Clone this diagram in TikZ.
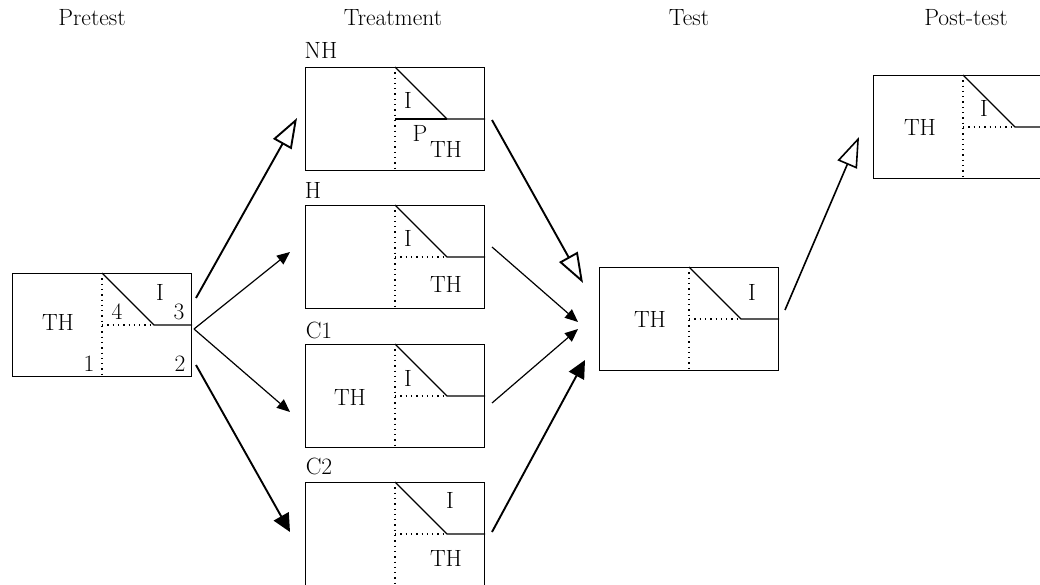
\documentclass[tikz,border=0pt]{standalone}
\usepackage{fontspec}
\setmainfont{Latin Modern Roman}
\usetikzlibrary{arrows.meta,calc}
\begin{document}
\begin{tikzpicture}[x=1pt,y=-1pt,
  box/.style={draw,line width=1.2pt,minimum width=179pt,minimum height=103pt,inner sep=0pt,anchor=north west},
  dots/.style={line width=1.3pt,dash pattern=on 1.3pt off 4pt},
  solid line/.style={line width=1.2pt},
  lbl/.style={font=\fontsize{23.5}{26}\selectfont,inner sep=0pt},
  openarrow/.style={line width=1.9pt,-{Triangle[open,length=30pt,width=21pt]}},
  bigarrow/.style={line width=1.9pt,-{Triangle[length=18pt,width=17pt]}},
  thinarrow/.style={line width=1.2pt,-{Triangle[length=13pt,width=11pt]}}
]
\clip (0,0) rectangle (1040,585);
% headers
\node[lbl] (hpre) at (92,18) {Pretest};
\node[lbl] (htr) at (393,18) {Treatment};
\node[lbl] (hte) at (689,18) {Test};
\node[lbl] (hpo) at (966,18) {Post-test};

\newcommand\mysplitbox[4]{% name, L, T, solid full horizontal? (1 yes / 0 no)
  \node[box] (#1) at (#2,#3) {};
  \draw[dots] ($(#1.north west)+(90,0)$) -- ($(#1.south west)+(90,0)$);
  \draw[solid line] ($(#1.north west)+(90,0)$) -- ($(#1.north west)+(142,52)$) -- ($(#1.north east)+(0,52)$);
  \ifnum#4=1
    \draw[solid line] ($(#1.north west)+(90,52)$) -- ($(#1.north west)+(142,52)$);
  \else
    \draw[dots] ($(#1.north west)+(90,52)$) -- ($(#1.north west)+(142,52)$);
  \fi
}
\mysplitbox{pre}{12}{273}{0}
\mysplitbox{nh}{305}{67}{1}
\mysplitbox{h}{305}{205}{0}
\mysplitbox{ca}{305}{344}{0}
\mysplitbox{cb}{305}{482}{0}
\mysplitbox{te}{599}{267}{0}
\mysplitbox{po}{873}{75}{0}

% pretest labels
\node[lbl] (preTH) at (58,322) {TH};
\node[lbl] (preI) at (160,292) {I};
\node[lbl] (pre4) at (117,312) {4};
\node[lbl] (pre3) at (179,312) {3};
\node[lbl] (pre1) at (89,364) {1};
\node[lbl] (pre2) at (180,364) {2};
% NH
\node[lbl] (nhL) at (321,50) {NH};
\node[lbl] (nhI) at (408,100) {I};
\node[lbl] (nhP) at (420,133) {P};
\node[lbl] (nhTH) at (446,149) {TH};
% H
\node[lbl] (hL) at (313,190) {H};
\node[lbl] (hI) at (408,238) {I};
\node[lbl] (hTH) at (446,284) {TH};
% C1
\node[lbl] (caL) at (319,330) {C1};
\node[lbl] (caTH) at (350,397) {TH};
\node[lbl] (caI) at (408,378) {I};
% C2
\node[lbl] (cbL) at (319,466) {C2};
\node[lbl] (cbI) at (450,500) {I};
\node[lbl] (cbTH) at (446,558) {TH};
% Test
\node[lbl] (teTH) at (650,319) {TH};
\node[lbl] (teI) at (752,292) {I};
% Post
\node[lbl] (poTH) at (920,127) {TH};
\node[lbl] (poI) at (984,108) {I};

% arrow endpoints
\coordinate (s1) at (196,298);
\coordinate (s23) at (194,329);
\coordinate (s4) at (196,365);
\coordinate (t1) at (297,118);
\coordinate (t2) at (290,252);
\coordinate (t3) at (290,412);
\coordinate (t4) at (290,532);
\coordinate (u5) at (492,120);
\coordinate (u6) at (492,247);
\coordinate (u7) at (492,403);
\coordinate (u8) at (492,532);
\coordinate (v5) at (583,283);
\coordinate (v6) at (578,322);
\coordinate (v7) at (578,329);
\coordinate (v8) at (585,360);
\coordinate (w9) at (785,310);
\coordinate (x9) at (859,137);

\draw[openarrow] (s1) -- (t1);
\draw[thinarrow] (s23) -- (t2);
\draw[thinarrow] (s23) -- (t3);
\draw[bigarrow] (s4) -- (t4);
\draw[openarrow] (u5) -- (v5);
\draw[thinarrow] (u6) -- (v6);
\draw[thinarrow] (u7) -- (v7);
\draw[bigarrow] (u8) -- (v8);
\draw[openarrow,line width=1.6pt] (w9) -- (x9);
\end{tikzpicture}
\end{document}
